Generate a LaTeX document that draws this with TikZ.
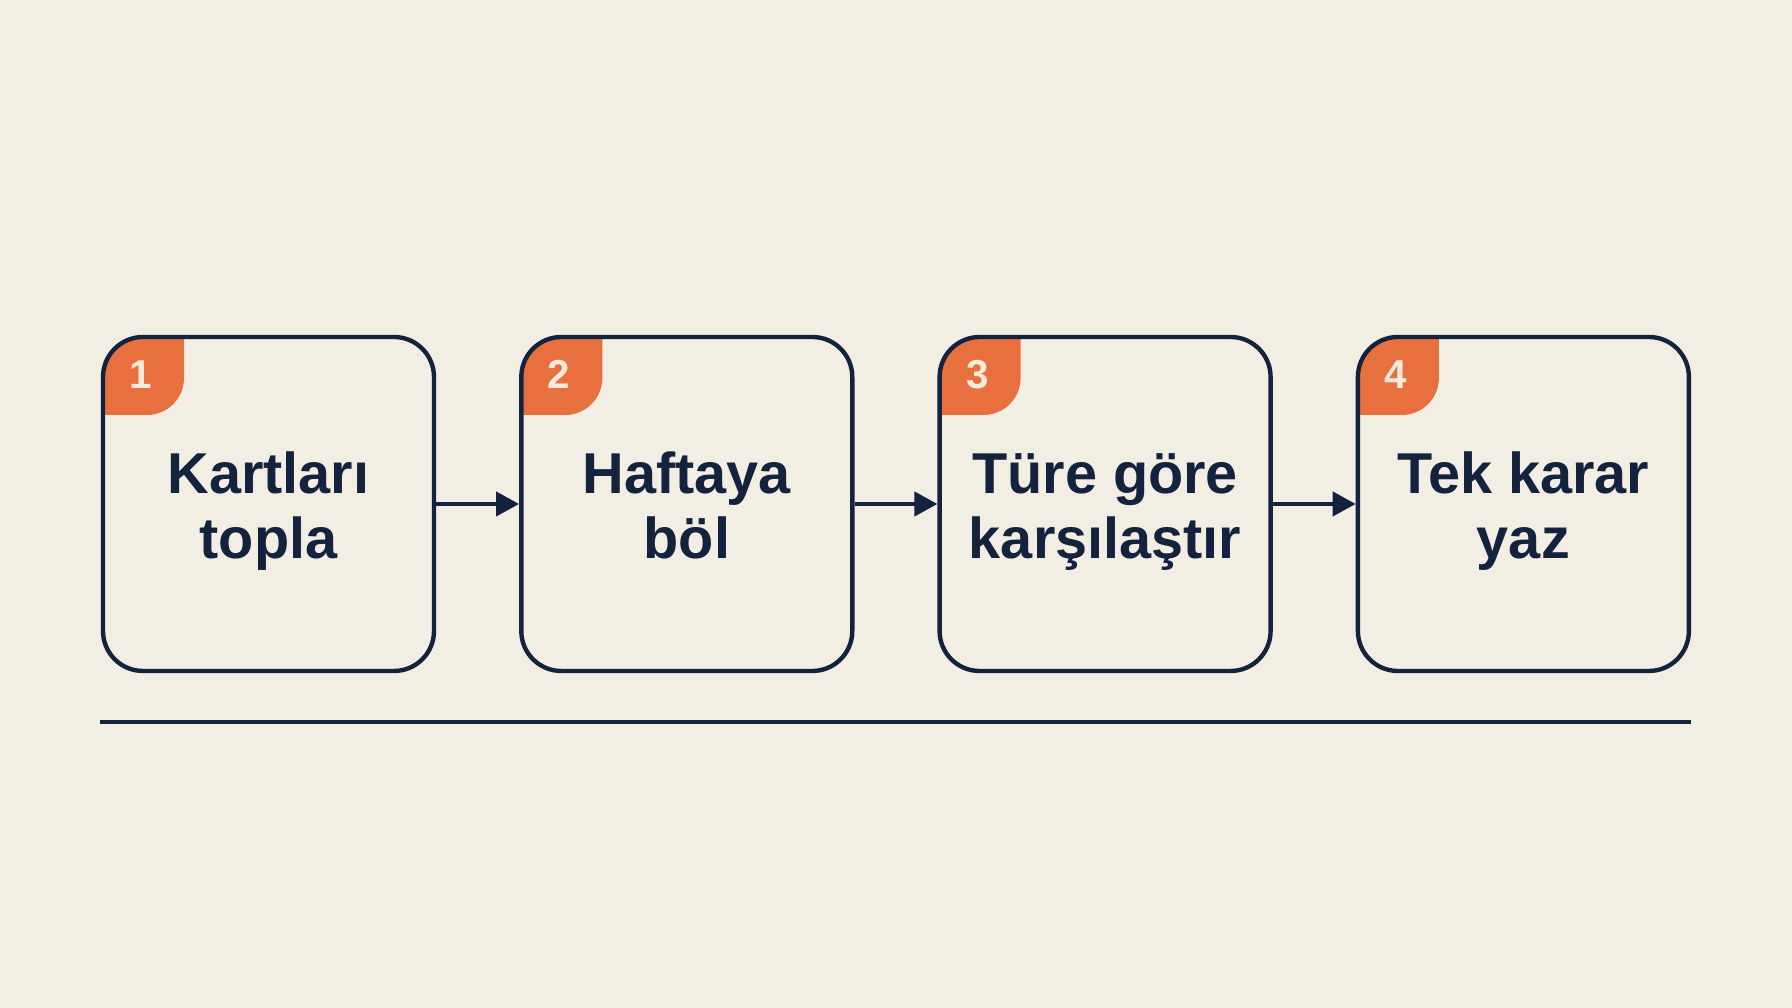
\documentclass[tikz,border=0pt]{standalone}
\usepackage{fontspec}
\setmainfont{Liberation Sans}
\usetikzlibrary{arrows.meta}

\definecolor{paper}{HTML}{F3EEE4}
\definecolor{ink}{HTML}{14233D}
\definecolor{accent}{HTML}{E8703F}
\definecolor{badgetext}{HTML}{F8EADB}

\tikzset{
  stepbox/.style={draw=ink, line width=1.25pt, rounded corners=0.4cm,
    minimum width=3.31cm, minimum height=3.34cm, fill=paper,
    path picture={\fill[accent, rounded corners=0.37cm]
      ([shift={(-1,1)}]path picture bounding box.north west) rectangle
      ([shift={(0.81,-0.78)}]path picture bounding box.north west);}},
  steptext/.style={text=ink, align=center,
    font=\bfseries\fontsize{16.4}{18.4}\selectfont},
  stepnum/.style={text=badgetext, font=\bfseries\fontsize{11.5}{13}\selectfont},
  flow/.style={draw=ink, line width=1.2pt, -{Triangle[length=2.3mm,width=2.4mm]}}
}

\begin{document}
\begin{tikzpicture}
  % Background and page size
  \fill[paper] (0,0) rectangle (17.92,10.08);
  \useasboundingbox (0,0) rectangle (17.92,10.08);

  % The four steps
  \node[stepbox] (box1) at (2.685,5.04) {};
  \node[stepbox] (box2) at (6.868,5.04) {};
  \node[stepbox] (box3) at (11.051,5.04) {};
  \node[stepbox] (box4) at (15.234,5.04) {};

  % Step numbers
  \node[stepnum] (num1) at ([shift={(0.4,-0.4)}]box1.north west) {1};
  \node[stepnum] (num2) at ([shift={(0.4,-0.4)}]box2.north west) {2};
  \node[stepnum] (num3) at ([shift={(0.4,-0.4)}]box3.north west) {3};
  \node[stepnum] (num4) at ([shift={(0.4,-0.4)}]box4.north west) {4};

  % Step texts (phantoms keep all four at the same height)
  \node[steptext] (text1) at ([yshift=-0.07cm]box1) {\vphantom{Klü}Kartları\\topla\vphantom{py}};
  \node[steptext] (text2) at ([yshift=-0.07cm]box2) {\vphantom{Klü}Haftaya\\böl\vphantom{py}};
  \node[steptext] (text3) at ([yshift=-0.07cm]box3) {\vphantom{Klü}Türe göre\\karşılaştır\vphantom{py}};
  \node[steptext] (text4) at ([yshift=-0.07cm]box4) {\vphantom{Klü}Tek karar\\yaz\vphantom{py}};

  % Arrows between the steps
  \draw[flow] (box1.east) -- (box2.west);
  \draw[flow] (box2.east) -- (box3.west);
  \draw[flow] (box3.east) -- (box4.west);

  % Rule under the row
  \coordinate (rule west) at (1.0,2.86);
  \coordinate (rule east) at (16.91,2.86);
  \draw[ink, line width=1.2pt] (rule west) -- (rule east);
\end{tikzpicture}
\end{document}
